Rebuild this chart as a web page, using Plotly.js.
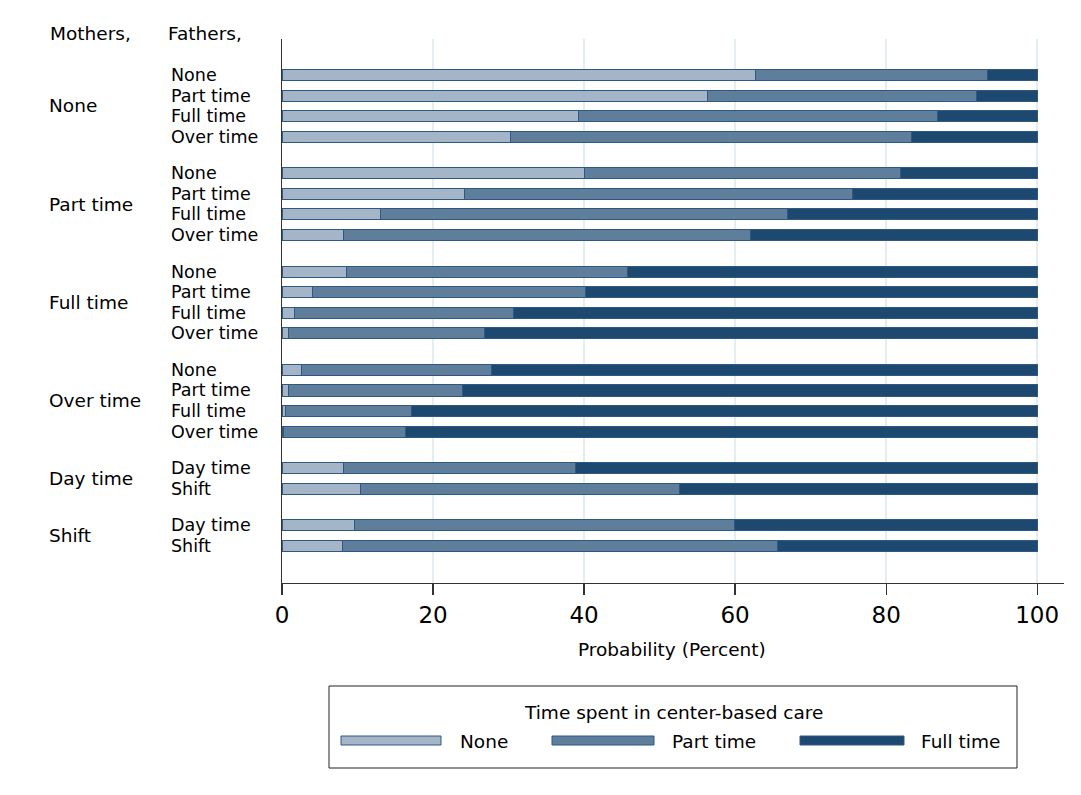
<!DOCTYPE html>
<html>
<head>
<meta charset="utf-8">
<script src="https://cdn.plot.ly/plotly-3.0.1.min.js"></script>
<style>html,body{margin:0;padding:0;background:#fff;}#chart{width:1081px;height:795px;}</style>
</head>
<body>
<div id="chart"></div>
<script>
// ---- data ----
const motherGroups = ['None', 'Part time', 'Full time', 'Over time', 'Day time', 'Shift'];
const fatherLabels = [
  ['None', 'Part time', 'Full time', 'Over time'],
  ['None', 'Part time', 'Full time', 'Over time'],
  ['None', 'Part time', 'Full time', 'Over time'],
  ['None', 'Part time', 'Full time', 'Over time'],
  ['Day time', 'Shift'],
  ['Day time', 'Shift']
];
const careNone = [62.7, 56.3, 39.3, 30.2, 40.1, 24.2, 13.0, 8.1, 8.6, 4.1, 1.7, 0.9, 2.6, 0.9, 0.4, 0.2, 8.1, 10.4, 9.6, 8.0];
const carePart = [30.7, 35.6, 47.5, 53.2, 41.8, 51.3, 54.0, 54.0, 37.2, 36.1, 28.9, 25.9, 25.1, 23.0, 16.7, 16.2, 30.8, 42.2, 50.3, 57.6];
const careFull = [6.6, 8.1, 13.2, 16.6, 18.1, 24.5, 33.0, 37.9, 54.2, 59.8, 69.4, 73.2, 72.3, 76.1, 82.9, 83.6, 61.1, 47.4, 40.1, 34.4];
const seriesNames = ['None', 'Part time', 'Full time'];
const legendTitle = 'Time spent in center-based care';
const xTitle = 'Probability (Percent)';
const xTicks = [0, 20, 40, 60, 80, 100];

// ---- layout helpers ----
const GAP = 0.78;
const rowPos = [], groupMid = [];
let idx = 0;
fatherLabels.forEach((grp, g) => {
  const start = idx + g * GAP;
  grp.forEach(() => { rowPos.push(idx + g * GAP); idx++; });
  groupMid.push((start + rowPos[rowPos.length - 1]) / 2);
});
const flatFather = [].concat(...fatherLabels);

const L = 282, R = 1064, T = 39, B = 583;
const W = R - L, H = B - T;
const px = p => (p - L) / W;
const py = p => (B - p) / H;

const FONT = 'DejaVu Sans, Verdana, sans-serif';
const fills = ['#a4b5c7', '#5f7e9c', '#1d4870'];
const edge = '#2e5983';
const vals = [careNone, carePart, careFull];

const traces = vals.map((v, i) => ({
  type: 'bar', orientation: 'h', name: seriesNames[i],
  x: v, y: rowPos, width: 0.54,
  marker: { color: fills[i], line: { color: edge, width: 1 } },
  showlegend: false, hoverinfo: 'x+name'
}));

const ann = [];
const txt = (text, x, y, opts) => Object.assign({
  text, x, y, xref: 'paper', yref: 'paper', showarrow: false, borderpad: 0,
  xanchor: 'left', yanchor: 'middle', font: { family: FONT, size: 18.5, color: '#000' }
}, opts || {});
const small = { family: FONT, size: 17.5, color: '#000' };

ann.push(txt('Mothers,', px(49), py(33)));
ann.push(txt('Fathers,', px(167), py(33)));
motherGroups.forEach((m, g) => ann.push(txt(m, px(48), groupMid[g], { yref: 'y' })));
flatFather.forEach((f, r) => ann.push(txt(f, px(170), rowPos[r], { yref: 'y', font: small })));
ann.push(txt(xTitle, px(672), py(649), { xanchor: 'center' }));
ann.push(txt(legendTitle, px(673), py(712), { xanchor: 'center' }));

const legX = [[341, 441, 459], [552, 654, 671], [800, 904, 920]];
const shapes = [{
  type: 'rect', xref: 'paper', yref: 'paper',
  x0: px(329), x1: px(1017), y0: py(686), y1: py(768),
  line: { color: '#222', width: 1 }, fillcolor: 'rgba(0,0,0,0)'
}];
seriesNames.forEach((n, i) => {
  shapes.push({
    type: 'rect', xref: 'paper', yref: 'paper',
    x0: px(legX[i][0]), x1: px(legX[i][1]), y0: py(745), y1: py(736),
    line: { color: edge, width: 1 }, fillcolor: fills[i]
  });
  ann.push(txt(n, px(legX[i][2]), py(741)));
});

const layout = {
  width: 1081, height: 795,
  margin: { l: L, r: 1081 - R, t: T, b: 795 - B, pad: 0 },
  paper_bgcolor: '#fff', plot_bgcolor: '#fff',
  barmode: 'stack', bargap: 0,
  showlegend: false,
  font: { family: FONT, size: 18.5, color: '#000' },
  xaxis: {
    range: [0, 103.55], tickvals: xTicks, ticktext: xTicks.map(String),
    showgrid: true, gridcolor: '#e4edf1', gridwidth: 1.5,
    zeroline: false, showline: true, linecolor: '#333', linewidth: 1.3,
    ticks: 'outside', ticklen: 11, tickcolor: '#333', tickwidth: 1.3,
    tickfont: { family: FONT, size: 23, color: '#000' }, fixedrange: true
  },
  yaxis: {
    range: [24.7, -1.75], showgrid: false, zeroline: false,
    showticklabels: false, ticks: '', showline: true, linecolor: '#333', linewidth: 1.3,
    fixedrange: true
  },
  annotations: ann,
  shapes: shapes
};

Plotly.newPlot('chart', traces, layout, { displayModeBar: false, staticPlot: true });
</script>
</body>
</html>
